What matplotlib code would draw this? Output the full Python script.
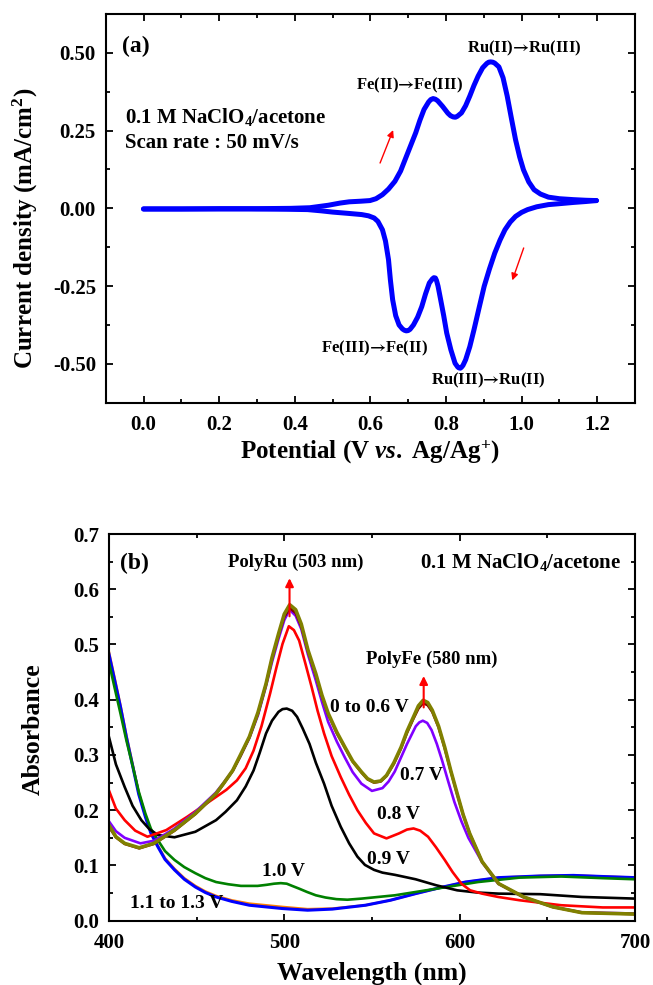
import matplotlib
matplotlib.use("Agg")
import matplotlib.pyplot as plt
from matplotlib.ticker import MultipleLocator

plt.rcParams['font.family'] = ['Liberation Serif', 'DejaVu Serif']
plt.rcParams['font.weight'] = 'bold'
plt.rcParams['axes.unicode_minus'] = False
plt.rcParams['mathtext.fontset'] = 'custom'
plt.rcParams['mathtext.rm'] = 'Liberation Serif:bold'
plt.rcParams['mathtext.it'] = 'Liberation Serif:italic:bold'
plt.rcParams['mathtext.bf'] = 'Liberation Serif:bold'
plt.rcParams['mathtext.sf'] = 'STIXGeneral:bold'

# ---------------- Panel (a): cyclic voltammogram ----------------
cv_fwd_E = [0.0, 0.10, 0.20, 0.30, 0.39, 0.44, 0.489, 0.52, 0.544, 0.575, 0.599, 0.615, 0.632,
            0.648, 0.665, 0.680, 0.692, 0.706, 0.720, 0.731, 0.742, 0.754, 0.760, 0.766, 0.772, 0.778,
            0.791, 0.805, 0.812, 0.819, 0.825, 0.830, 0.841, 0.852, 0.863, 0.874, 0.885, 0.897, 0.908,
            0.913, 0.918, 0.924, 0.929, 0.940, 0.951, 0.962, 0.973, 0.984, 0.995, 1.005, 1.019, 1.033,
            1.050, 1.071, 1.100, 1.137, 1.170, 1.198]
cv_fwd_j = [-0.002, -0.002, -0.001, -0.001, 0.000, 0.002, 0.010, 0.017, 0.021, 0.023, 0.025, 0.031, 0.044,
            0.062, 0.087, 0.120, 0.157, 0.200, 0.243, 0.283, 0.318, 0.342, 0.350, 0.353, 0.351, 0.346,
            0.328, 0.306, 0.298, 0.294, 0.293, 0.296, 0.307, 0.330, 0.361, 0.395, 0.425, 0.452, 0.466,
            0.470, 0.471, 0.470, 0.467, 0.455, 0.420, 0.361, 0.290, 0.221, 0.165, 0.124, 0.085, 0.060,
            0.046, 0.036, 0.031, 0.028, 0.026, 0.025]
cv_rev_E = [1.198, 1.170, 1.137, 1.100, 1.071, 1.040, 1.016, 1.000, 0.984, 0.970, 0.956, 0.943,
            0.929, 0.915, 0.901, 0.888, 0.874, 0.863, 0.852, 0.845, 0.841, 0.838, 0.834, 0.831, 0.824,
            0.813, 0.802, 0.794, 0.786, 0.779, 0.775, 0.772, 0.768, 0.764, 0.756, 0.746, 0.736, 0.725,
            0.714, 0.705, 0.700, 0.695, 0.690, 0.685, 0.676, 0.667, 0.659, 0.653, 0.648, 0.640, 0.632,
            0.620, 0.610, 0.595, 0.577, 0.540, 0.500, 0.470, 0.434, 0.38, 0.28, 0.15, 0.0]
cv_rev_j = [0.025, 0.022, 0.019, 0.015, 0.012, 0.005, -0.004, -0.013, -0.026, -0.044, -0.069, -0.102,
            -0.144, -0.195, -0.251, -0.318, -0.391, -0.445, -0.487, -0.505, -0.511, -0.514, -0.513, -0.510, -0.498,
            -0.455, -0.401, -0.345, -0.294, -0.250, -0.232, -0.224, -0.223, -0.227, -0.240, -0.275, -0.316, -0.350,
            -0.375, -0.389, -0.393, -0.394, -0.392, -0.388, -0.375, -0.345, -0.294, -0.230, -0.165, -0.105, -0.069,
            -0.042, -0.031, -0.024, -0.020, -0.016, -0.012, -0.008, -0.004, -0.003, -0.002, -0.002, -0.002]

# ---------------- Panel (b): spectra ----------------
wl_v06 = [400, 404, 409, 417.3, 425.6, 437.4, 449.3, 461.1, 465.5, 470.6, 475.0, 480.1, 485.0, 489.6,
          493.0, 496.7, 500.0, 503.1, 506.5, 509.7, 513.5, 518, 521.5, 525.1, 530.0, 534.6, 539.0,
          544.1, 547.5, 551.2, 555.0, 558.3, 562.5, 566.6, 570.0, 573.7, 576.5, 579.2, 581.8, 584.4,
          588.0, 591.5, 595.0, 598.6, 602.0, 605.7, 612.8, 622.3, 636.5, 653.1, 669.7, 700]
abs_v06 = [0.170, 0.151, 0.139, 0.131, 0.139, 0.163, 0.193, 0.229, 0.248, 0.271, 0.298, 0.332, 0.375, 0.428,
           0.474, 0.516, 0.550, 0.566, 0.557, 0.533, 0.488, 0.444, 0.406, 0.373, 0.339, 0.313, 0.288,
           0.268, 0.256, 0.250, 0.252, 0.262, 0.284, 0.312, 0.340, 0.366, 0.384, 0.394, 0.390, 0.378,
           0.350, 0.312, 0.270, 0.229, 0.192, 0.158, 0.107, 0.067, 0.043, 0.025, 0.0145, 0.012]
wl_v0 = wl_v06
abs_v0 = [0.173, 0.152, 0.140, 0.132, 0.140, 0.164, 0.194, 0.230, 0.249, 0.272, 0.300, 0.333, 0.377, 0.429,
          0.476, 0.519, 0.555, 0.572, 0.563, 0.537, 0.490, 0.447, 0.408, 0.375, 0.341, 0.314, 0.289,
          0.269, 0.257, 0.251, 0.253, 0.263, 0.286, 0.314, 0.343, 0.369, 0.389, 0.399, 0.395, 0.381,
          0.352, 0.314, 0.271, 0.230, 0.192, 0.158, 0.107, 0.067, 0.043, 0.025, 0.0145, 0.012]
wl_v07 = [400, 404, 409, 418, 426, 437, 449, 461, 465.5, 470.6, 475, 480, 485, 489.6, 493, 496.7, 500.0,
          503, 506.5, 509.7, 513.5, 518, 521.5, 525, 530, 534.6, 539, 544, 550, 556, 559.5, 563, 566.5,
          570, 575, 577, 579, 581.5, 584, 587, 590, 593.5, 597, 601, 605, 613, 622, 636, 653, 670, 700]
abs_v07 = [0.180, 0.162, 0.150, 0.140, 0.145, 0.166, 0.196, 0.232, 0.250, 0.272, 0.298, 0.330, 0.372, 0.425,
           0.468, 0.510, 0.544, 0.563, 0.552, 0.528, 0.482, 0.435, 0.396, 0.360, 0.324, 0.295, 0.269,
           0.248, 0.235, 0.240, 0.252, 0.270, 0.295, 0.320, 0.352, 0.359, 0.362, 0.358, 0.345, 0.320,
           0.290, 0.252, 0.215, 0.180, 0.150, 0.105, 0.067, 0.043, 0.025, 0.015, 0.013]
wl_v08 = [400, 404, 409, 415, 422, 432.7, 444.6, 461.1, 467, 473, 478, 482.5, 487, 491.9, 495.5, 499,
          502.6, 505.5, 508.5, 512, 515.6, 519, 522.7, 527, 532.2, 537, 541.7, 546.5, 551.2, 558.3,
          565.4, 570.0, 573.7, 577.5, 582, 586.5, 591.5, 596, 601, 606, 612.8, 622, 634.2, 657.9, 681.6, 700]
abs_v08 = [0.236, 0.203, 0.182, 0.163, 0.152, 0.164, 0.188, 0.224, 0.237, 0.254, 0.276, 0.308, 0.352,
           0.411, 0.458, 0.501, 0.533, 0.526, 0.507, 0.466, 0.423, 0.380, 0.339, 0.298, 0.260, 0.228,
           0.200, 0.177, 0.158, 0.149, 0.158, 0.165, 0.167, 0.163, 0.152, 0.133, 0.110, 0.088, 0.067,
           0.055, 0.049, 0.043, 0.037, 0.028, 0.024, 0.024]
wl_v09 = [400, 404, 409, 413.5, 418.5, 423, 428, 437.4, 449.3, 461.1, 466.5, 473, 478, 482.5, 486,
          489.6, 493, 496.7, 499, 501.4, 504.5, 507.3, 510.5, 514.4, 518, 522.7, 527, 532.2, 537,
          541.7, 546, 551.2, 556, 563.1, 574.9, 586.8, 598.6, 610, 622.3, 646, 669.7, 700]
abs_v09 = [0.333, 0.283, 0.242, 0.208, 0.182, 0.166, 0.155, 0.151, 0.161, 0.182, 0.197, 0.218, 0.243,
           0.272, 0.304, 0.339, 0.362, 0.378, 0.383, 0.384, 0.380, 0.369, 0.348, 0.320, 0.286, 0.248,
           0.208, 0.170, 0.140, 0.116, 0.101, 0.092, 0.087, 0.083, 0.075, 0.064, 0.055, 0.051, 0.049,
           0.048, 0.043, 0.040]
wl_v10 = [400, 403.3, 406.6, 410, 413.7, 417, 420.8, 424, 427.9, 432, 437.4, 443, 449.3, 455, 461.1,
          468, 475.3, 484.8, 490, 494.2, 498, 501.4, 504.5, 508.5, 513, 518, 523.5, 529.8, 536, 544.1,
          563.1, 586.8, 610.5, 634.2, 657.9, 681.6, 700]
abs_v10 = [0.468, 0.421, 0.375, 0.326, 0.278, 0.234, 0.194, 0.166, 0.146, 0.126, 0.110, 0.097, 0.086,
           0.077, 0.070, 0.066, 0.063, 0.063, 0.065, 0.067, 0.068, 0.067, 0.063, 0.058, 0.052, 0.046,
           0.042, 0.039, 0.038, 0.040, 0.046, 0.058, 0.070, 0.078, 0.080, 0.077, 0.075]
wl_v11 = [400, 403.3, 406.6, 410, 413.7, 417, 420.8, 424, 427.9, 432, 437.4, 443, 449.3, 455, 461.1,
          470, 480.1, 499, 513.3, 527.4, 546.3, 560.5, 574.9, 589.1, 603.3, 622.3, 646, 664.9, 681.6, 700]
abs_v11 = [0.487, 0.439, 0.390, 0.335, 0.281, 0.232, 0.190, 0.160, 0.136, 0.113, 0.094, 0.077, 0.063,
           0.053, 0.045, 0.037, 0.031, 0.025, 0.021, 0.022, 0.028, 0.037, 0.049, 0.060, 0.070, 0.078,
           0.081, 0.082, 0.080, 0.078]
wl_v13 = wl_v11
abs_v13 = [0.483, 0.435, 0.387, 0.332, 0.278, 0.229, 0.188, 0.158, 0.134, 0.111, 0.092, 0.075, 0.061,
           0.051, 0.043, 0.035, 0.028, 0.022, 0.019, 0.021, 0.028, 0.037, 0.049, 0.060, 0.070, 0.078,
           0.081, 0.082, 0.080, 0.078]

fig = plt.figure(figsize=(6.53, 9.85), dpi=100)
W, H = 653.0, 985.0
axa = fig.add_axes([105.7 / W, 1 - 402.7 / H, (635 - 105.7) / W, (402.7 - 14) / H])
axb = fig.add_axes([108.9 / W, 1 - 920.7 / H, (635 - 108.9) / W, (920.7 - 534) / H])

TICK_FS = 15
for ax in (axa, axb):
    for s in ax.spines.values():
        s.set_linewidth(1.5)
    ax.tick_params(which='both', direction='in', top=True, right=True, labeltop=False,
                   labelright=False, width=1.3, labelsize=TICK_FS)
    ax.tick_params(axis='x', which='both', pad=9)
    ax.tick_params(axis='y', which='both', pad=7)
    ax.tick_params(which='major', length=5)
    ax.tick_params(which='minor', length=3)

ARROW = '$\\mathsf{\u2192}$'

# Panel (a)
axa.plot(cv_fwd_E, cv_fwd_j, color='#0000FF', lw=3.6, solid_joinstyle='round', solid_capstyle='round')
axa.plot(cv_rev_E, cv_rev_j, color='#0000FF', lw=3.6, solid_joinstyle='round', solid_capstyle='round')
axa.set_xlim(-0.1, 1.3)
axa.set_ylim(-0.625, 0.625)
axa.set_xticks([0.0, 0.2, 0.4, 0.6, 0.8, 1.0, 1.2])
axa.set_xticklabels(['0.0', '0.2', '0.4', '0.6', '0.8', '1.0', '1.2'], fontweight='bold')
axa.set_yticks([-0.5, -0.25, 0.0, 0.25, 0.5])
axa.set_yticklabels(['-0.50', '-0.25', '0.00', '0.25', '0.50'], fontweight='bold')
axa.xaxis.set_minor_locator(MultipleLocator(0.1))
axa.yaxis.set_minor_locator(MultipleLocator(0.125))
axa.set_xlabel('Potential (V $\\mathit{vs.}$ Ag/Ag$^{+}$)', fontsize=18, fontweight='bold')
axa.set_ylabel('Current density (mA/cm$^{2}$)', fontsize=18, fontweight='bold')
axa.xaxis.set_label_coords(0.499, -0.126)
axa.xaxis.label.set_va('center')
axa.yaxis.set_label_coords(-0.152, 0.449)
axa.yaxis.label.set_va('center')

axa.text(-0.057, 0.522, '(a)', fontsize=17, fontweight='bold', va='center', ha='left')
axa.text(-0.049, 0.294, '0.1 M NaClO$_4$/acetone', fontsize=15, fontweight='bold', va='center', ha='left')
axa.text(-0.049, 0.2105, 'Scan rate : 50 mV/s', fontsize=15, fontweight='bold', va='center', ha='left')
axa.text(1.006, 0.516, 'Ru(II)' + ARROW + 'Ru(III)', fontsize=12, fontweight='bold', va='center', ha='center')
axa.text(0.705, 0.395, 'Fe(II)' + ARROW + 'Fe(III)', fontsize=12, fontweight='bold', va='center', ha='center')
axa.text(0.610, -0.449, 'Fe(III)' + ARROW + 'Fe(II)', fontsize=12, fontweight='bold', va='center', ha='center')
axa.text(0.912, -0.554, 'Ru(III)' + ARROW + 'Ru(II)', fontsize=12, fontweight='bold', va='center', ha='center')
axa.annotate('', xy=(0.663, 0.26), xytext=(0.623, 0.1375),
             arrowprops=dict(arrowstyle='-|>', color='red', lw=1.0, mutation_scale=10))
axa.annotate('', xy=(0.973, -0.240), xytext=(1.008, -0.119),
             arrowprops=dict(arrowstyle='-|>', color='red', lw=1.0, mutation_scale=10))

# Panel (b)
axb.plot(wl_v11, abs_v11, color='#FF8000', lw=1.8)
axb.plot(wl_v13, abs_v13, color='#0000FF', lw=2.2)
axb.plot(wl_v10, abs_v10, color='#008000', lw=1.9)
axb.plot(wl_v09, abs_v09, color='#000000', lw=1.9)
axb.plot(wl_v08, abs_v08, color='#FF0000', lw=1.9)
axb.plot(wl_v07, abs_v07, color='#8000FF', lw=1.9)
axb.plot(wl_v06, abs_v06, color='#800000', lw=1.9)
axb.plot(wl_v0, abs_v0, color='#808000', lw=2.6)
axb.set_xlim(400, 700)
axb.set_ylim(0, 0.7)
axb.set_xticks([400, 500, 600, 700])
axb.set_xticklabels(['400', '500', '600', '700'], fontweight='bold')
axb.set_yticks([0.0, 0.1, 0.2, 0.3, 0.4, 0.5, 0.6, 0.7])
axb.set_yticklabels(['0.0', '0.1', '0.2', '0.3', '0.4', '0.5', '0.6', '0.7'], fontweight='bold')
axb.xaxis.set_minor_locator(MultipleLocator(50))
axb.yaxis.set_minor_locator(MultipleLocator(0.05))
axb.set_xlabel('Wavelength (nm)', fontsize=18.5, fontweight='bold')
axb.set_ylabel('Absorbance', fontsize=18.5, fontweight='bold')
axb.xaxis.set_label_coords(0.4994, -0.135)
axb.xaxis.label.set_va('center')
axb.yaxis.set_label_coords(-0.144, 0.496)
axb.yaxis.label.set_va('center')

axb.text(406.5, 0.647, '(b)', fontsize=17, fontweight='bold', va='center', ha='left')
axb.text(506.6, 0.649, 'PolyRu (503 nm)', fontsize=13.5, fontweight='bold', va='center', ha='center')
axb.text(692, 0.650, '0.1 M NaClO$_4$/acetone', fontsize=15, fontweight='bold', va='center', ha='right')
axb.text(584.3, 0.474, 'PolyFe (580 nm)', fontsize=13.5, fontweight='bold', va='center', ha='center')
axb.text(548.8, 0.386, '0 to 0.6 V', fontsize=14, fontweight='bold', va='center', ha='center')
axb.text(578.5, 0.263, '0.7 V', fontsize=14, fontweight='bold', va='center', ha='center')
axb.text(565.4, 0.192, '0.8 V', fontsize=14, fontweight='bold', va='center', ha='center')
axb.text(559.5, 0.111, '0.9 V', fontsize=14, fontweight='bold', va='center', ha='center')
axb.text(499.8, 0.089, '1.0 V', fontsize=14, fontweight='bold', va='center', ha='center')
axb.text(438.6, 0.031, '1.1 to 1.3 V', fontsize=14, fontweight='bold', va='center', ha='center')
axb.annotate('', xy=(503, 0.625), xytext=(503, 0.546),
             arrowprops=dict(arrowstyle='-|>', color='red', lw=1.5, mutation_scale=12))
axb.annotate('', xy=(579.5, 0.448), xytext=(579.5, 0.381),
             arrowprops=dict(arrowstyle='-|>', color='red', lw=1.5, mutation_scale=12))

fig.savefig('out.png', dpi=100)
